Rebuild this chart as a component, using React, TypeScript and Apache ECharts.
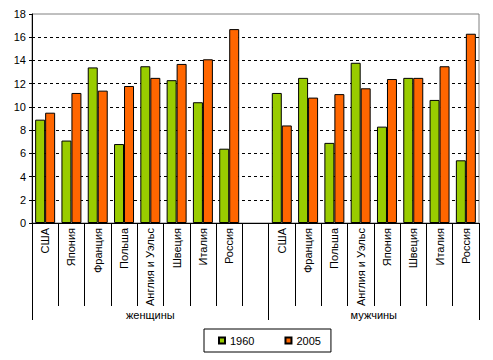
import React, { useEffect, useRef } from "react";
import * as echarts from "echarts";

const womenCountries = ["США", "Япония", "Франция", "Польша", "Англия и Уэльс", "Швеция", "Италия", "Россия"];
const menCountries = ["США", "Франция", "Польша", "Англия и Уэльс", "Япония", "Швеция", "Италия", "Россия"];
const groupNames = ["женщины", "мужчины"];
const seriesNames = ["1960", "2005"];

const women1960 = [8.9, 7.1, 13.4, 6.8, 13.5, 12.3, 10.4, 6.4];
const women2005 = [9.5, 11.2, 11.4, 11.8, 12.5, 13.7, 14.1, 16.7];
const men1960 = [11.2, 12.5, 6.9, 13.8, 8.3, 12.5, 10.6, 5.4];
const men2005 = [8.4, 10.8, 11.1, 11.6, 12.4, 12.5, 13.5, 16.3];

const yTicks = [0, 2, 4, 6, 8, 10, 12, 14, 16, 18];

export default function App() {
  const ref = useRef<HTMLDivElement>(null);
  useEffect(() => {
    if (!ref.current) return;
    const chart = echarts.init(ref.current, null, { renderer: "svg" });
    const categories = [...womenCountries, "", ...menCountries];
    const s1960 = [...women1960, null, ...men1960];
    const s2005 = [...women2005, null, ...men2005];
    const total = categories.length;
    const womenSlots = womenCountries.length + 1;
    const font = "Liberation Sans, Arial, sans-serif";
    chart.setOption({
      animation: false,
      textStyle: { fontFamily: font },
      grid: {
        left: 32,
        right: 14,
        top: 14,
        bottom: 137,
        show: true,
        borderColor: "#808080",
        borderWidth: 1,
      },
      legend: {
        data: seriesNames,
        left: 204,
        top: 329,
        orient: "horizontal",
        itemWidth: 6,
        itemHeight: 6,
        itemGap: 30,
        padding: [6, 10, 6, 14],
        borderColor: "#000",
        borderWidth: 1,
        icon: "rect",
        textStyle: { fontFamily: font, fontSize: 11, color: "#000" },
      },
      xAxis: [
        {
          type: "category",
          data: categories,
          axisLine: { lineStyle: { color: "#000", width: 1 } },
          axisTick: { show: true, interval: 0, length: 83, lineStyle: { color: "#000" } },
          axisLabel: {
            interval: 0,
            rotate: 90,
            margin: 5,
            fontSize: 11,
            color: "#000",
            fontFamily: font,
          },
        },
        {
          type: "value",
          min: 0,
          max: total,
          position: "bottom",
          axisLine: { show: false },
          splitLine: { show: false },
          axisTick: {
            show: true,
            length: 97,
            customValues: [0, womenSlots, total],
            lineStyle: { color: "#000" },
          },
          axisLabel: {
            customValues: [womenSlots / 2, womenSlots + (total - womenSlots) / 2],
            formatter: (v: number) => (v < womenSlots ? groupNames[0] : groupNames[1]),
            margin: 86,
            fontSize: 11,
            color: "#000",
            fontFamily: font,
          },
        },
      ],
      yAxis: {
        type: "value",
        min: yTicks[0],
        max: yTicks[yTicks.length - 1],
        interval: 2,
        axisLine: { show: true, lineStyle: { color: "#000" } },
        axisTick: { show: true, length: 3, lineStyle: { color: "#000" } },
        axisLabel: { fontSize: 11, color: "#000", margin: 6, fontFamily: font },
        splitLine: {
          show: true,
          showMaxLine: false,
          showMinLine: false,
          lineStyle: { color: "#000", type: [3, 3], width: 1 },
        },
      },
      series: [
        {
          name: seriesNames[0],
          type: "bar",
          data: s1960,
          barGap: "0%",
          barCategoryGap: "24%",
          itemStyle: { color: "#99CC00", borderColor: "#000", borderWidth: 1 },
        },
        {
          name: seriesNames[1],
          type: "bar",
          data: s2005,
          itemStyle: { color: "#FF6600", borderColor: "#000", borderWidth: 1 },
        },
      ],
    });
    return () => chart.dispose();
  }, []);
  return <div ref={ref} style={{ width: 493, height: 360, position: "absolute", left: 0, top: 0 }} />;
}
